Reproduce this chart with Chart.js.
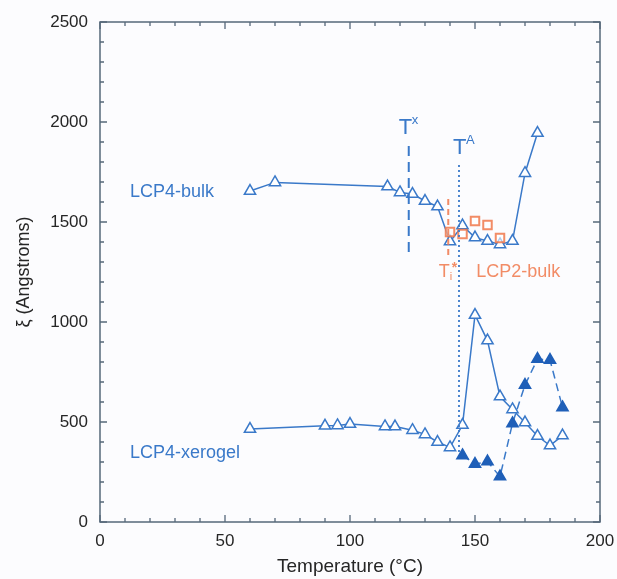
<!DOCTYPE html>
<html>
<head>
<meta charset="utf-8">
<script src="https://cdn.jsdelivr.net/npm/chart.js@4/dist/chart.umd.min.js"></script>
<style>
  html, body { margin: 0; padding: 0; background: #fcfcfe; }
  #wrap { width: 617px; height: 579px; }
</style>
</head>
<body>
<div id="wrap"><canvas id="xiChart" width="617" height="579"></canvas></div>
<script>
// LCP4-bulk (open triangles)
const tempBulk = [60, 70, 115, 120, 125, 130, 135, 140, 145, 150, 155, 160, 165, 170, 175];
const xiBulk = [1655, 1698, 1677, 1648, 1640, 1605, 1577, 1402, 1482, 1422, 1405, 1388, 1405, 1744, 1945];

// LCP4-xerogel (open triangles)
const tempXero = [60, 90, 95, 100, 114, 118, 125, 130, 135, 140, 145, 150, 155, 160, 165, 170, 175, 180, 185];
const xiXero = [465, 481, 483, 490, 478, 477, 459, 438, 400, 373, 485, 1035, 907, 627, 563, 497, 430, 382, 432];

// LCP4-xerogel second branch (filled triangles, dashed)
const tempXeroFill = [145, 150, 155, 160, 165, 170, 175, 180, 185];
const xiXeroFill = [333, 290, 302, 227, 493, 685, 815, 810, 573];

// LCP2-bulk (open squares)
const tempLcp2 = [140, 145, 150, 155, 160];
const xiLcp2 = [1450, 1440, 1505, 1485, 1420];

// transition markers
const tX = 123.5, tXRange = [1350, 1885];
const tA = 143.6, tARange = [350, 1790];
const tI = 139.3, tIRange = [1335, 1635];

const blue = '#3a79c9';
const orange = 'rgba(240,120,75,0.85)';
const axisColor = '#56687a';
const fontFam = 'Liberation Sans, Arial, sans-serif';

const pts = (xs, ys) => xs.map((x, i) => ({x: x, y: ys[i]}));

// inner ticks + frame
const frame = {
  id: 'frame',
  afterDatasetsDraw(chart) {
    const {ctx, chartArea: a, scales: {x, y}} = chart;
    ctx.save();
    ctx.strokeStyle = axisColor;
    ctx.lineWidth = 1.3;
    for (let v = 0; v <= 200; v += 10) {
      const px = x.getPixelForValue(v);
      const len = v % 50 === 0 ? 7 : 4;
      ctx.beginPath();
      ctx.moveTo(px, a.bottom); ctx.lineTo(px, a.bottom - len);
      ctx.moveTo(px, a.top); ctx.lineTo(px, a.top + len);
      ctx.stroke();
    }
    for (let v = 0; v <= 2500; v += 100) {
      const py = y.getPixelForValue(v);
      const len = v % 500 === 0 ? 7 : 4;
      ctx.beginPath();
      ctx.moveTo(a.left, py); ctx.lineTo(a.left + len, py);
      ctx.moveTo(a.right, py); ctx.lineTo(a.right - len, py);
      ctx.stroke();
    }
    ctx.lineWidth = 1.5;
    ctx.strokeRect(a.left, a.top, a.right - a.left, a.bottom - a.top);
    ctx.restore();
  }
};

// text labels
const labels = {
  id: 'labels',
  afterDatasetsDraw(chart) {
    const {ctx, scales: {x, y}} = chart;
    ctx.save();
    ctx.textBaseline = 'middle';
    ctx.textAlign = 'left';

    ctx.fillStyle = blue;
    ctx.font = '18px ' + fontFam;
    ctx.fillText('LCP4-bulk', x.getPixelForValue(12), y.getPixelForValue(1650));
    ctx.fillText('LCP4-xerogel', x.getPixelForValue(12), y.getPixelForValue(345));

    // T^x
    ctx.font = '22px ' + fontFam;
    let px = x.getPixelForValue(119.5), py = y.getPixelForValue(1970);
    ctx.fillText('T', px, py);
    ctx.font = '13px ' + fontFam;
    ctx.fillText('x', px + 13, py - 8);

    // T^A
    ctx.font = '22px ' + fontFam;
    px = x.getPixelForValue(141.2); py = y.getPixelForValue(1870);
    ctx.fillText('T', px, py);
    ctx.font = '13px ' + fontFam;
    ctx.fillText('A', px + 13, py - 8);

    // T_i* and LCP2-bulk
    ctx.fillStyle = orange;
    ctx.font = '18px ' + fontFam;
    px = x.getPixelForValue(135.5); py = y.getPixelForValue(1250);
    ctx.fillText('T', px, py);
    ctx.font = '11px ' + fontFam;
    ctx.fillText('i', px + 11, py + 5);
    ctx.font = 'bold 14px ' + fontFam;
    ctx.fillText('*', px + 13, py - 4);
    ctx.font = '18px ' + fontFam;
    ctx.fillText('LCP2-bulk', x.getPixelForValue(150.5), y.getPixelForValue(1250));
    ctx.restore();
  }
};

new Chart(document.getElementById('xiChart'), {
  type: 'scatter',
  data: {
    datasets: [
      {
        data: pts([tX, tX], tXRange),
        showLine: true, borderColor: blue, borderWidth: 2, borderDash: [10, 6],
        pointRadius: 0
      },
      {
        data: pts([tA, tA], tARange),
        showLine: true, borderColor: blue, borderWidth: 1.8, borderDash: [2, 3],
        pointRadius: 0
      },
      {
        data: pts([tI, tI], tIRange),
        showLine: true, borderColor: orange, borderWidth: 2, borderDash: [6, 4],
        pointRadius: 0
      },
      {
        label: 'LCP2-bulk',
        data: pts(tempLcp2, xiLcp2),
        showLine: false, pointStyle: 'rect', pointRadius: 6,
        borderColor: orange, backgroundColor: 'rgba(255,255,255,0.6)', borderWidth: 2
      },
      {
        label: 'LCP4-bulk',
        data: pts(tempBulk, xiBulk),
        showLine: true, borderColor: blue, borderWidth: 1.5,
        pointStyle: 'triangle', pointRadius: 6.5, pointBorderWidth: 1.5,
        pointBackgroundColor: '#ffffff', pointBorderColor: blue
      },
      {
        label: 'LCP4-xerogel',
        data: pts(tempXero, xiXero),
        showLine: true, borderColor: blue, borderWidth: 1.5,
        pointStyle: 'triangle', pointRadius: 6.5, pointBorderWidth: 1.5,
        pointBackgroundColor: '#ffffff', pointBorderColor: blue
      },
      {
        label: 'LCP4-xerogel filled',
        data: pts(tempXeroFill, xiXeroFill),
        showLine: true, borderColor: blue, borderWidth: 1.5, borderDash: [8, 5],
        pointStyle: 'triangle', pointRadius: 6.5, pointBorderWidth: 1.5,
        pointBackgroundColor: '#1f5fb8', pointBorderColor: '#1f5fb8'
      }
    ]
  },
  options: {
    responsive: false,
    animation: false,
    layout: { padding: { top: 22, right: 17, bottom: 0, left: 0 } },
    plugins: { legend: { display: false }, tooltip: { enabled: false } },
    scales: {
      x: {
        type: 'linear', min: 0, max: 200,
        afterFit: (s) => { s.height = 57; s.paddingLeft = 0; s.paddingRight = 0; },
        grid: { display: false, drawTicks: false },
        border: { display: false },
        ticks: { stepSize: 50, padding: 9, color: '#262626', callback: (v) => String(v), font: { size: 17, family: fontFam } },
        title: { display: true, text: 'Temperature (°C)', color: '#262626', padding: { top: 0, bottom: 1 }, font: { size: 19, family: fontFam } }
      },
      y: {
        type: 'linear', min: 0, max: 2500,
        afterFit: (s) => { s.width = 100; s.paddingTop = 0; s.paddingBottom = 0; },
        grid: { display: false, drawTicks: false },
        border: { display: false },
        ticks: { stepSize: 500, padding: 12, color: '#262626', callback: (v) => String(v), font: { size: 17, family: fontFam } },
        title: { display: true, text: 'ξ (Angstroms)', color: '#262626', padding: { top: 13, bottom: 0 }, font: { size: 18, family: fontFam } }
      }
    }
  },
  plugins: [frame, labels]
});
</script>
</body>
</html>
